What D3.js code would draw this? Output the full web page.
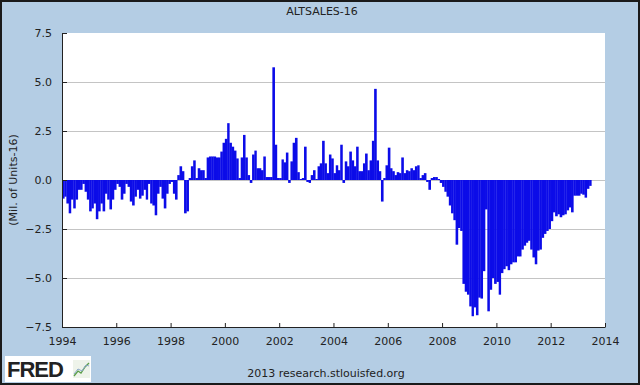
<!DOCTYPE html>
<html>
<head>
<meta charset="utf-8">
<script src="https://cdn.jsdelivr.net/npm/d3@7"></script>
<style>
  body { margin: 0; padding: 0; background: #fff; }
  svg { display: block; }
  text { font-family: "DejaVu Sans", Verdana, sans-serif; fill: #222; }
</style>
</head>
<body>
<div id="chart"></div>
<script>
// ALTSALES - 16, monthly, millions of units (SAAR)
var v1994 = [-0.95, -0.85, -1.2, -1.7, -1.0, -1.45, -1.0, -0.5, -0.5, -0.2, -0.6, -1.0];
var v1995 = [-1.6, -1.45, -1.2, -2.0, -1.6, -1.2, -1.6, -0.7, -1.0, -1.5, -1.0, -0.5];
var v1996 = [-0.2, -0.35, -1.0, -0.7, -0.2, -0.35, -1.1, -1.3, -0.85, -0.5, -0.95, -0.8];
var v1997 = [-0.5, -1.0, -0.2, -1.2, -1.3, -1.8, -0.7, -0.35, -0.95, -1.45, -0.7, -0.2];
var v1998 = [-0.1, -0.7, -1.0, 0.25, 0.7, 0.45, -1.7, -1.6, 0.1, 0.7, 1.0, 0.1];
var v1999 = [0.6, 0.5, 0.5, 0.1, 1.15, 1.2, 1.2, 1.2, 1.15, 1.15, 1.45, 1.9];
var v2000 = [2.1, 2.9, 1.9, 1.7, 1.5, 1.1, 0.1, 1.15, 2.3, 1.15, 0.25, -0.15];
var v2001 = [1.3, 1.5, 0.6, 0.6, 0.5, 1.2, 0.15, 0.15, 0.15, 5.75, 1.8, 0.1];
var v2002 = [0.1, 1.05, 0.9, 1.4, -0.15, 0.95, 1.9, 2.15, 0.4, 0.05, 0.1, 1.7];
var v2003 = [-0.1, -0.15, 0.25, 0.5, 0.05, 0.7, 0.85, 2.0, 0.85, 0.35, 1.3, 1.1];
var v2004 = [0.35, 0.75, 0.5, 1.8, -0.15, 0.95, 0.7, 1.45, 1.0, 0.7, 1.7, 0.45];
var v2005 = [0.45, 0.85, 1.35, 0.5, 1.0, 2.0, 4.65, 1.0, 0.45, -1.1, 0.1, 0.75];
var v2006 = [1.65, 0.6, 0.45, 0.25, 0.4, 0.35, 1.15, 0.35, 0.5, 0.45, 0.6, 0.5];
var v2007 = [0.7, 0.75, 0.1, 0.25, 0.35, -0.1, -0.5, 0.1, 0.15, 0.15, 0.05, -0.15];
var v2008 = [-0.35, -0.6, -0.85, -1.3, -1.7, -2.05, -3.3, -2.45, -2.6, -5.3, -5.7, -5.85];
var v2009 = [-6.45, -6.95, -6.5, -6.9, -6.0, -6.05, -4.65, -1.5, -6.7, -5.6, -5.0, -5.3];
var v2010 = [-5.2, -5.85, -4.75, -4.55, -4.4, -4.6, -4.3, -4.2, -4.2, -3.9, -3.9, -3.55];
var v2011 = [-3.35, -3.2, -3.1, -3.55, -3.95, -4.3, -3.6, -3.55, -2.95, -2.75, -2.6, -2.5];
var v2012 = [-2.1, -1.65, -1.85, -1.75, -1.9, -1.8, -1.75, -1.55, -1.4, -1.65, -0.8, -0.8];
var v2013 = [-0.8, -0.7, -0.75, -0.9, -0.45, -0.3];

var startYear = 1994;
var yTicks = [-7.5, -5.0, -2.5, 0.0, 2.5, 5.0, 7.5];
var xTickYears = [1994, 1996, 1998, 2000, 2002, 2004, 2006, 2008, 2010, 2012, 2014];

var values = [].concat(v1994, v1995, v1996, v1997, v1998, v1999, v2000, v2001, v2002, v2003,
  v2004, v2005, v2006, v2007, v2008, v2009, v2010, v2011, v2012, v2013);
var data = values.map(function(v, i) {
  return {date: new Date(startYear, i, 1), end: new Date(startYear, i + 1, 1), value: v};
});

var W = 640, H = 385;
var margin = {top: 33, right: 35, bottom: 58, left: 62},
    width = W - margin.left - margin.right,
    height = H - margin.top - margin.bottom;

var svg = d3.select("#chart")
  .append("svg")
    .attr("width", W)
    .attr("height", H);

// background + frame
svg.append("rect")
  .attr("x", 1).attr("y", 1)
  .attr("width", W - 2).attr("height", H - 2)
  .attr("fill", "#b4cde4")
  .attr("stroke", "#1a1a1a")
  .attr("stroke-width", 2);

var x = d3.scaleTime()
  .domain([new Date(1994, 0, 1), new Date(2014, 0, 1)])
  .range([0, width]);

var y = d3.scaleLinear()
  .domain([-7.5, 7.5])
  .range([height, 0]);

var g = svg.append("g")
  .attr("transform", "translate(" + margin.left + "," + margin.top + ")");

g.append("rect")
  .attr("width", width)
  .attr("height", height)
  .attr("fill", "#fff");

// gridlines
g.selectAll(".grid")
  .data(yTicks.filter(function(t) { return Math.abs(t) < 7.5; }))
  .enter()
  .append("line")
    .attr("x1", 0).attr("x2", width)
    .attr("y1", function(d) { return Math.round(y(d)) + 0.5; })
    .attr("y2", function(d) { return Math.round(y(d)) + 0.5; })
    .attr("stroke", "#c4c4c4")
    .attr("stroke-width", 1);

// bars (slight overlap so neighbours read as one solid mass, like the original)
g.selectAll(".bar")
  .data(data)
  .enter()
  .append("rect")
    .attr("x", function(d) { return x(d.date); })
    .attr("width", function(d) { return x(d.end) - x(d.date) + 0.3; })
    .attr("y", function(d) { return y(Math.max(0, d.value)); })
    .attr("height", function(d) { return Math.abs(y(d.value) - y(0)); })
    .attr("fill", "#0c0ce8");

// y axis
var yAxis = g.append("g")
  .call(d3.axisLeft(y)
    .tickValues(yTicks)
    .tickSizeInner(-5)
    .tickSizeOuter(0)
    .tickPadding(10)
    .tickFormat(d3.format(".1f")));
yAxis.select(".domain").attr("stroke", "#222");
yAxis.selectAll(".tick line").attr("stroke", "#222");
yAxis.selectAll("text")
  .style("font-size", "11px")
  .attr("fill", "#222");

// x axis
var xAxis = g.append("g")
  .attr("transform", "translate(0," + height + ")")
  .call(d3.axisBottom(x)
    .tickValues(xTickYears.map(function(yr) { return new Date(yr, 0, 1); }))
    .tickSizeInner(-4)
    .tickSizeOuter(0)
    .tickPadding(10)
    .tickFormat(d3.timeFormat("%Y")));
xAxis.select(".domain").attr("stroke", "#222");
xAxis.selectAll(".tick line").attr("stroke", "#222");
xAxis.selectAll("text")
  .style("font-size", "11px")
  .attr("fill", "#222");

// title
svg.append("text")
  .attr("x", 322)
  .attr("y", 15)
  .attr("text-anchor", "middle")
  .style("font-size", "11px")
  .text("ALTSALES-16");

// y axis label
svg.append("text")
  .attr("transform", "translate(17," + (margin.top + height / 2) + ")rotate(-90)")
  .attr("text-anchor", "middle")
  .style("font-size", "11px")
  .text("(Mil. of Units-16)");

// footer
svg.append("text")
  .attr("x", 326)
  .attr("y", 377)
  .attr("text-anchor", "middle")
  .style("font-size", "11px")
  .text("2013 research.stlouisfed.org");

// FRED logo
var logo = svg.append("g").attr("transform", "translate(5,356)");
logo.append("rect")
  .attr("width", 86).attr("height", 26)
  .attr("fill", "#fff");
logo.append("text")
  .attr("x", 2).attr("y", 21)
  .style("font-family", "'Liberation Sans', Arial, sans-serif")
  .style("font-weight", "bold")
  .style("font-size", "22px")
  .style("letter-spacing", "-1px")
  .attr("fill", "#111")
  .text("FRED");
var icon = logo.append("g").attr("transform", "translate(68,4)");
icon.append("rect").attr("width", 17).attr("height", 18).attr("fill", "#eef3ea");
var iconLine = d3.line();
icon.append("path")
  .attr("d", iconLine([[1, 16], [5, 11], [8, 13], [12, 7], [16, 3]]))
  .attr("fill", "none").attr("stroke", "#5a9e48").attr("stroke-width", 1.3);
icon.append("path")
  .attr("d", iconLine([[1, 14], [5, 9], [9, 11], [13, 5], [16, 6]]))
  .attr("fill", "none").attr("stroke", "#8aa8c8").attr("stroke-width", 1);
</script>
</body>
</html>
